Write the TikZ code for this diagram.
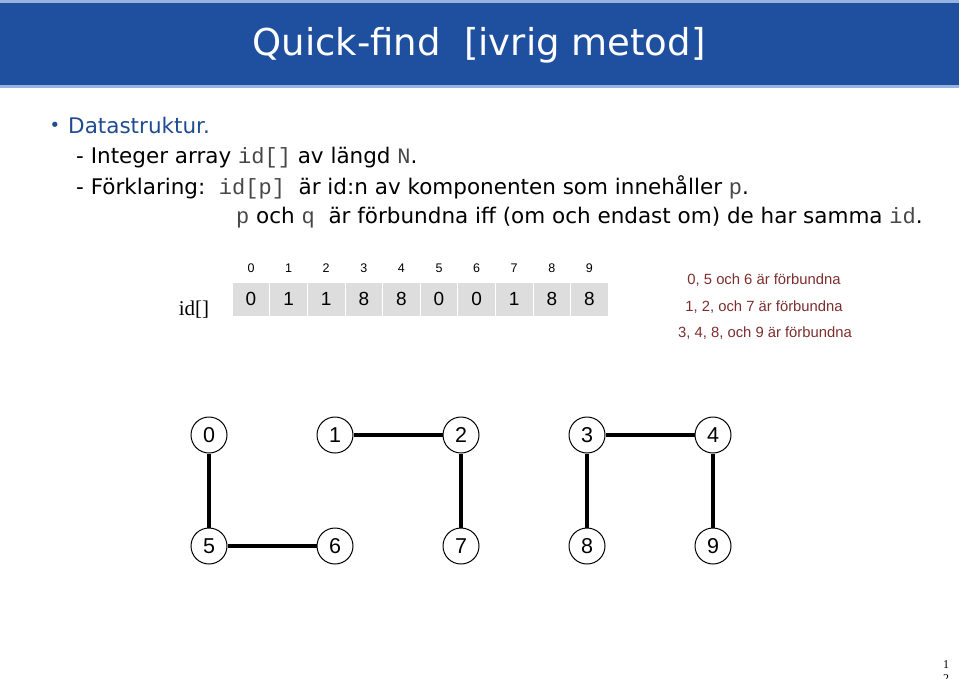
\documentclass[tikz,border=0pt]{standalone}
\usepackage{fontspec}
\setmainfont{DejaVu Sans}
\setmonofont{Liberation Mono}
\newfontfamily\arialfont{Liberation Sans}
\newfontfamily\timesfont{Liberation Serif}
\definecolor{hdrblue}{RGB}{31,80,160}
\definecolor{hdrline}{RGB}{150,180,225}
\definecolor{bodyblue}{RGB}{31,75,145}
\definecolor{notered}{RGB}{125,45,45}
\definecolor{cellgray}{RGB}{221,221,221}
\definecolor{monogray}{RGB}{70,70,70}
\newcommand{\code}[1]{{\ttfamily\fontsize{22}{22}\selectfont\color{monogray}#1}}
\begin{document}
\begin{tikzpicture}[x=1pt,y=-1pt,
  vertex/.style={draw, circle, line width=1pt, minimum size=36pt, inner sep=0pt, font=\arialfont\fontsize{21.5}{21.5}\selectfont},
  cell/.style={fill=cellgray, draw=white, line width=1pt, minimum width=37.6pt, minimum height=34pt, inner sep=0pt, font=\arialfont\fontsize{19}{19}\selectfont},
  index/.style={font=\arialfont\fontsize{12.5}{12.5}\selectfont},
  note/.style={text=notered, font=\arialfont\fontsize{14.8}{14.8}\selectfont},
  bodyline/.style={anchor=base west, inner sep=0pt, font=\fontsize{21.5}{21.5}\selectfont},
  link/.style={line width=4.5pt}]
\useasboundingbox (0,0) rectangle (959,678);

% header
\fill[hdrline] (0,0) rectangle (959,3);
\fill[hdrblue] (0,3) rectangle (959,85);
\fill[hdrline] (0,85) rectangle (959,88);
\node[text=white, font=\fontsize{37}{37}\selectfont] (title) at (479,45) {Quick-find\ \ [ivrig metod]};

% bullet text
\node[text=bodyblue, font=\fontsize{18}{18}\selectfont] (dot) at (55,127) {•};
\node[bodyline, text=bodyblue] (l1) at (68,133) {Datastruktur.};
\node[bodyline] (l2) at (76,163) {- Integer array \code{id[]} av längd \code{N}.};
\node[bodyline] (l3) at (76,194) {- Förklaring:\ \ \code{id[p]}\ \ är id:n av komponenten som innehåller \code{p}.};
\node[bodyline] (l4) at (236,223) {\code{p} och \code{q}\ \ är förbundna iff (om och endast om) de har samma \code{id}.};

% array
\node[font=\timesfont\fontsize{21}{21}\selectfont] (idlabel) at (194,310) {id[]};
\foreach \v [count=\i from 0] in {0,1,1,8,8,0,0,1,8,8} {
  \node[cell] (c\i) at (251+37.6*\i,299) {\v};
  \node[index] (i\i) at (251+37.6*\i,268) {\i};
}

% notes
\node[note] (n1) at (764,280) {0, 5 och 6 är förbundna};
\node[note] (n2) at (764,307) {1, 2, och 7 är förbundna};
\node[note] (n3) at (765,333) {3, 4, 8, och 9 är förbundna};

% graph
\node[vertex] (v0) at (209,435) {0};
\node[vertex] (v1) at (335,435) {1};
\node[vertex] (v2) at (461,435) {2};
\node[vertex] (v3) at (587,435) {3};
\node[vertex] (v4) at (713,435) {4};
\node[vertex] (v5) at (209,546) {5};
\node[vertex] (v6) at (335,546) {6};
\node[vertex] (v7) at (461,546) {7};
\node[vertex] (v8) at (587,546) {8};
\node[vertex] (v9) at (713,546) {9};

\path[draw,link] (v0) -- (v5);
\path[draw,link] (v5) -- (v6);
\path[draw,link] (v1) -- (v2);
\path[draw,link] (v2) -- (v7);
\path[draw,link] (v3) -- (v4);
\path[draw,link] (v3) -- (v8);
\path[draw,link] (v4) -- (v9);

% page number
\node[align=center, inner sep=0pt, font=\timesfont\fontsize{12}{14}\selectfont] (page) at (946,672) {1\\2};
\end{tikzpicture}
\end{document}
